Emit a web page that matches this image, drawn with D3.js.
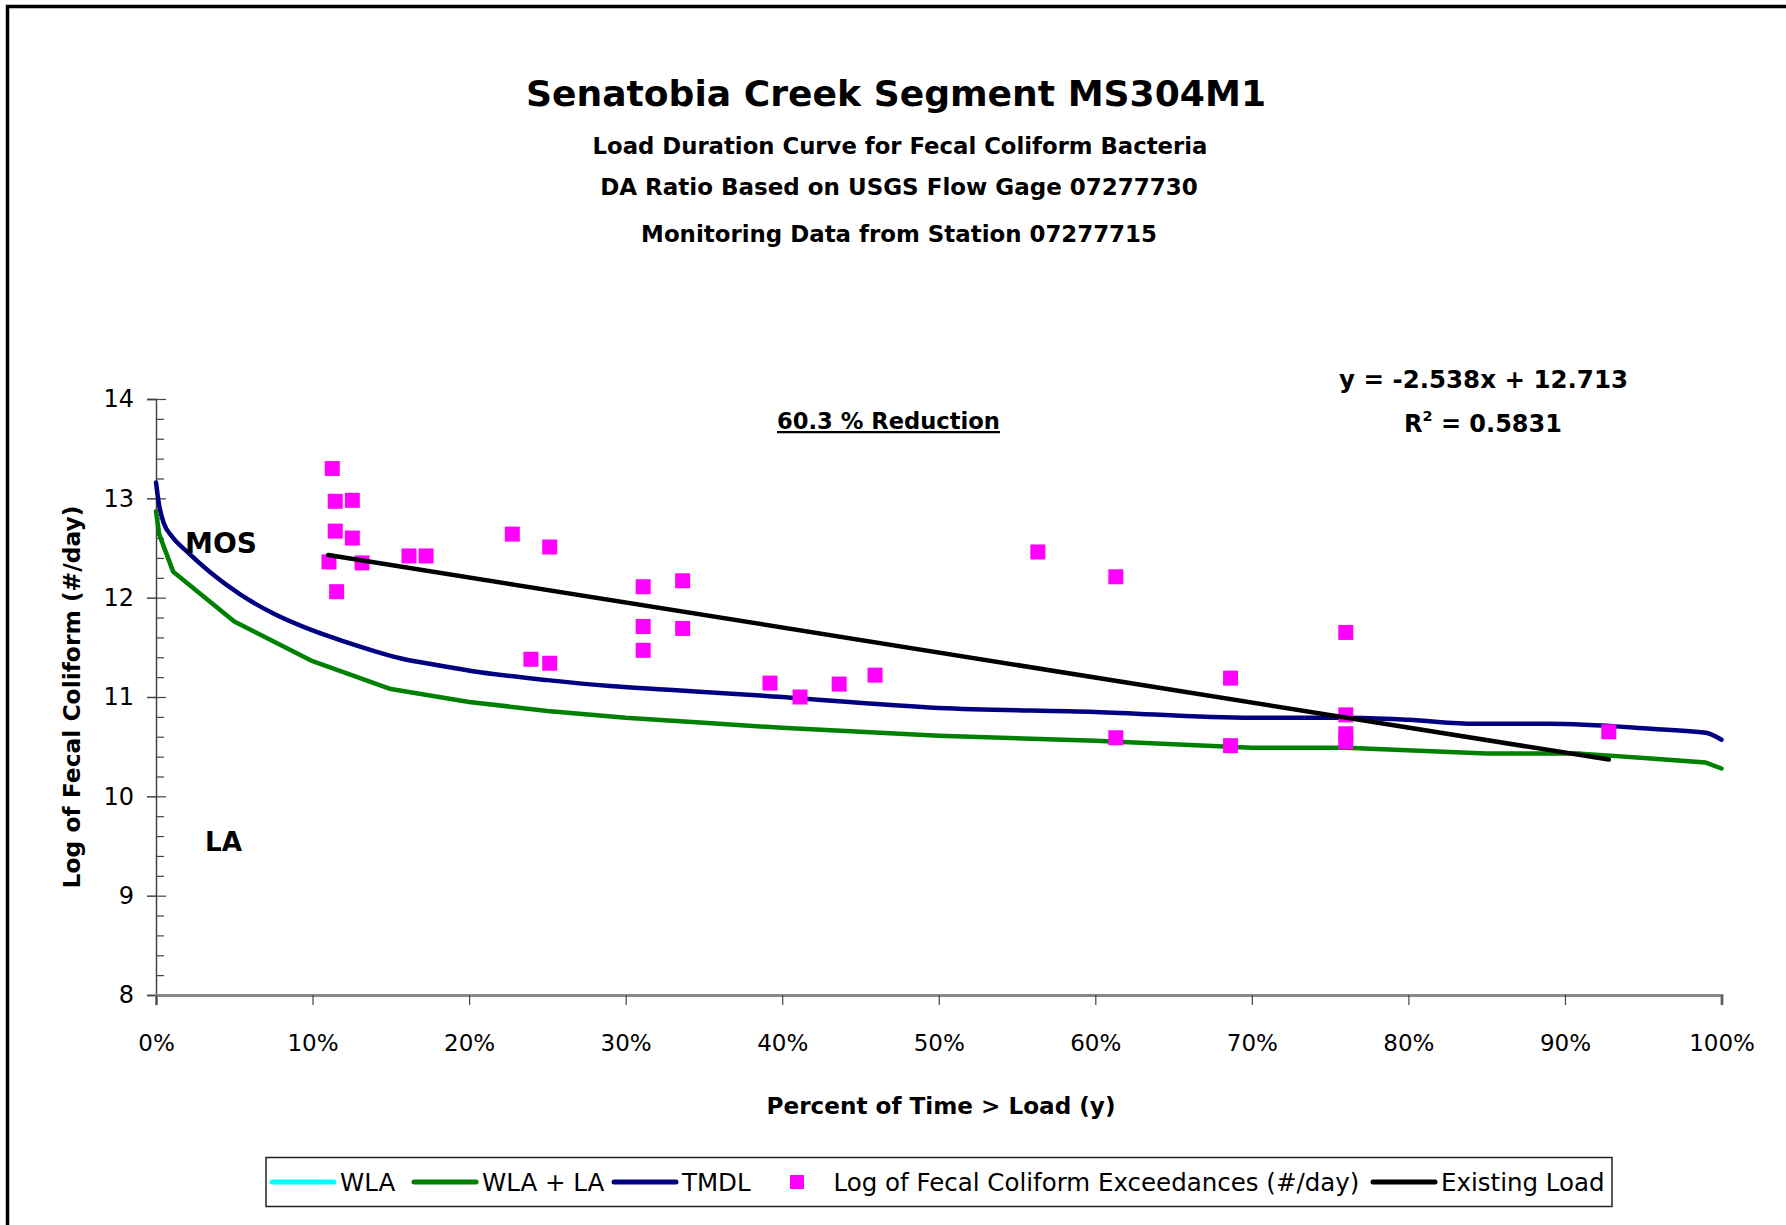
<!DOCTYPE html>
<html>
<head>
<meta charset="utf-8">
<script src="https://cdn.jsdelivr.net/npm/d3@7.9.0/dist/d3.min.js"></script>
<style>
  body { margin: 0; background: #fff; }
  svg { display: block; font-family: 'Comic Sans MS', 'DejaVu Sans', sans-serif; }
</style>
</head>
<body>
<svg id="chart" width="1786" height="1225"></svg>
<script>
// percent of time (fraction) and log load for the WLA + LA curve
const wlaLaX = [0, 0.002, 0.011, 0.05, 0.10, 0.15, 0.20, 0.25, 0.30, 0.35, 0.40, 0.50, 0.60, 0.70, 0.76, 0.85, 0.91, 0.955, 0.99, 1.00];
const wlaLaY = [12.87, 12.64, 12.26, 11.76, 11.36, 11.08, 10.95, 10.86, 10.79, 10.74, 10.69, 10.61, 10.56, 10.49, 10.49, 10.43, 10.43, 10.38, 10.34, 10.28];

// TMDL curve
const tmdlX = [0, 0.002, 0.005, 0.01, 0.02, 0.035, 0.054, 0.075, 0.10, 0.122, 0.14, 0.156, 0.18, 0.207, 0.25, 0.29, 0.33, 0.39, 0.50, 0.60, 0.70, 0.76, 0.80, 0.843, 0.89, 0.955, 0.99, 1.00];
const tmdlY = [13.16, 12.93, 12.75, 12.62, 12.46, 12.25, 12.03, 11.84, 11.67, 11.55, 11.46, 11.39, 11.32, 11.25, 11.17, 11.11, 11.07, 11.01, 10.89, 10.85, 10.79, 10.79, 10.77, 10.73, 10.73, 10.68, 10.64, 10.57];

// exceedances
const exceedX = [0.1126, 0.1145, 0.1254, 0.1145, 0.1254, 0.1105, 0.1316, 0.1154, 0.1616, 0.1725, 0.2276, 0.2515,
                 0.3112, 0.3364, 0.3112, 0.3364, 0.3112, 0.2395, 0.2515, 0.3922, 0.4114, 0.4364, 0.4593, 0.5633,
                 0.6131, 0.6131, 0.6864, 0.6864, 0.76, 0.76, 0.76, 0.76, 0.928];
const exceedY = [13.30, 12.97, 12.98, 12.67, 12.60, 12.36, 12.35, 12.06, 12.42, 12.42, 12.64, 12.51,
                 12.11, 12.17, 11.71, 11.69, 11.47, 11.38, 11.34, 11.14, 11.00, 11.13, 11.22, 12.46,
                 12.21, 10.59, 11.19, 10.51, 11.65, 10.82, 10.63, 10.55, 10.65];

// existing load trend line end points
const existingX = [0.110, 0.928];
const existingY = [12.43, 10.37];

const yMajor = [8, 9, 10, 11, 12, 13, 14];
const xTicks = [0, 0.1, 0.2, 0.3, 0.4, 0.5, 0.6, 0.7, 0.8, 0.9, 1.0];

const legendItems = [
  { label: 'WLA', color: '#00FFFF', type: 'line', x: 272 },
  { label: 'WLA + LA', color: '#008000', type: 'line', x: 414 },
  { label: 'TMDL', color: '#000080', type: 'line', x: 614 },
  { label: 'Log of Fecal Coliform Exceedances (#/day)', color: '#FF00FF', type: 'square', x: 790 },
  { label: 'Existing Load', color: '#000000', type: 'line', x: 1373 }
];

const svg = d3.select('#chart');

const x = d3.scaleLinear().domain([0, 1]).range([156, 1721.5]);
const y = d3.scaleLinear().domain([8, 14]).range([995, 399]);

// shrink or grow a text's font so it spans the wanted width
function fit(sel, w) {
  const node = sel.node();
  const base = parseFloat(sel.attr('font-size'));
  const len = node.getComputedTextLength();
  sel.attr('font-size', (base * w / len).toFixed(2));
  return sel;
}

// outer frame
svg.append('rect')
  .attr('x', 7.5).attr('y', 6.5)
  .attr('width', 1850).attr('height', 1300)
  .attr('fill', 'none').attr('stroke', '#000').attr('stroke-width', 3.5);

// titles
const titles = [
  { t: 'Senatobia Creek Segment MS304M1', y: 106, w: 740, x: 896 },
  { t: 'Load Duration Curve for Fecal Coliform Bacteria', y: 154, w: 615, x: 900 },
  { t: 'DA Ratio Based on USGS Flow Gage 07277730', y: 195, w: 598, x: 899 },
  { t: 'Monitoring Data from Station 07277715', y: 241.5, w: 516, x: 899 }
];
titles.forEach(d => {
  const t = svg.append('text')
    .attr('x', d.x).attr('y', d.y)
    .attr('text-anchor', 'middle')
    .attr('font-weight', 'bold')
    .attr('font-size', 30)
    .text(d.t);
  fit(t, d.w);
});

// y axis
const yAxis = svg.append('g')
  .attr('transform', `translate(${x(0)},0)`)
  .call(d3.axisLeft(y).tickValues(yMajor).tickSize(9).tickPadding(13).tickFormat(d3.format('d')));
yAxis.select('.domain').attr('stroke', '#444').attr('stroke-width', 1.5);
yAxis.selectAll('.tick line').attr('stroke', '#444').attr('stroke-width', 1.5);
yAxis.selectAll('.tick text').attr('font-size', 24).attr('fill', '#000')
  .attr('font-family', "'Comic Sans MS', 'DejaVu Sans', sans-serif");

// inside ticks: majors and minors
const yMinor = d3.range(8, 14.001, 0.2).map(v => +v.toFixed(1));
const yIn = svg.append('g')
  .attr('transform', `translate(${x(0)},0)`)
  .call(d3.axisRight(y).tickValues(yMinor).tickSize(8).tickFormat(''));
yIn.select('.domain').remove();
yIn.selectAll('.tick line')
  .attr('stroke', '#444').attr('stroke-width', 1.2)
  .attr('x2', d => Number.isInteger(d) ? 10 : 8);

// x axis
const xAxis = svg.append('g')
  .attr('transform', `translate(0,${y(8)})`)
  .call(d3.axisBottom(x).tickValues(xTicks).tickSize(10).tickPadding(30).tickFormat(d3.format('.0%')));
xAxis.select('.domain').attr('stroke', '#888').attr('stroke-width', 3);
xAxis.selectAll('.tick line').attr('stroke', '#444').attr('stroke-width', 1.2);
xAxis.selectAll('.tick text').attr('font-size', 23).attr('fill', '#000')
  .attr('font-family', "'Comic Sans MS', 'DejaVu Sans', sans-serif");

// axis titles
const yt = svg.append('text')
  .attr('transform', 'translate(80,697) rotate(-90)')
  .attr('text-anchor', 'middle')
  .attr('font-weight', 'bold')
  .attr('font-size', 24)
  .text('Log of Fecal Coliform (#/day)');
fit(yt, 383);

const xt = svg.append('text')
  .attr('x', 941).attr('y', 1114)
  .attr('text-anchor', 'middle')
  .attr('font-weight', 'bold')
  .attr('font-size', 24)
  .text('Percent of Time > Load (y)');
fit(xt, 349);

// lines
const line = d3.line().x(d => x(d[0])).y(d => y(d[1]));

svg.append('path')
  .datum(d3.zip(wlaLaX, wlaLaY))
  .attr('d', line)
  .attr('fill', 'none').attr('stroke', '#008000').attr('stroke-width', 4.5)
  .attr('stroke-linejoin', 'round').attr('stroke-linecap', 'round');

svg.append('path')
  .datum(d3.zip(tmdlX, tmdlY))
  .attr('d', line.curve(d3.curveMonotoneX))
  .attr('fill', 'none').attr('stroke', '#000080').attr('stroke-width', 4.5)
  .attr('stroke-linejoin', 'round').attr('stroke-linecap', 'round');

// exceedance points
svg.append('g')
  .selectAll('rect')
  .data(d3.zip(exceedX, exceedY))
  .join('rect')
  .attr('x', d => x(d[0]) - 7.5)
  .attr('y', d => y(d[1]) - 7.5)
  .attr('width', 15).attr('height', 15)
  .attr('fill', '#FF00FF');

// existing load trend
svg.append('path')
  .datum(d3.zip(existingX, existingY))
  .attr('d', d3.line().x(d => x(d[0])).y(d => y(d[1])))
  .attr('fill', 'none').attr('stroke', '#000').attr('stroke-width', 4.5)
  .attr('stroke-linecap', 'round');

// annotations
const red = svg.append('text')
  .attr('x', 888.5).attr('y', 429)
  .attr('text-anchor', 'middle')
  .attr('font-weight', 'bold')
  .attr('font-size', 24)
  .attr('text-decoration', 'underline')
  .text('60.3 % Reduction');
fit(red, 223);

const eq = svg.append('text')
  .attr('x', 1483.5).attr('y', 388)
  .attr('text-anchor', 'middle')
  .attr('font-weight', 'bold')
  .attr('font-size', 24)
  .text('y = -2.538x + 12.713');
fit(eq, 289);

const r2 = svg.append('text')
  .attr('x', 1483).attr('y', 431.5)
  .attr('text-anchor', 'middle')
  .attr('font-weight', 'bold')
  .attr('font-size', 24);
r2.append('tspan').text('R');
r2.append('tspan').attr('font-size', '0.6em').attr('dy', -11).text('2');
r2.append('tspan').attr('dy', 11).text(' = 0.5831');

const mos = svg.append('text')
  .attr('x', 185).attr('y', 553)
  .attr('font-weight', 'bold')
  .attr('font-size', 28)
  .text('MOS');
fit(mos, 72);

const la = svg.append('text')
  .attr('x', 205).attr('y', 851)
  .attr('font-weight', 'bold')
  .attr('font-size', 28)
  .text('LA');
fit(la, 37);

// legend
svg.append('rect')
  .attr('x', 266).attr('y', 1157.5)
  .attr('width', 1346).attr('height', 49)
  .attr('fill', '#fff').attr('stroke', '#222').attr('stroke-width', 1.5);

const lg = svg.append('g');
let legendSize = 24;
{
  const probe = lg.append('text').attr('font-size', 24).text(legendItems[3].label);
  legendSize = 24 * 526 / probe.node().getComputedTextLength();
  probe.remove();
}
legendItems.forEach(d => {
  let tx;
  if (d.type === 'line') {
    lg.append('line')
      .attr('x1', d.x).attr('x2', d.x + 62)
      .attr('y1', 1182).attr('y2', 1182)
      .attr('stroke', d.color).attr('stroke-width', 5)
      .attr('stroke-linecap', 'round');
    tx = d.x + 68;
  } else {
    lg.append('rect')
      .attr('x', d.x).attr('y', 1175)
      .attr('width', 14).attr('height', 14)
      .attr('fill', d.color);
    tx = 833.5;
  }
  lg.append('text')
    .attr('x', tx).attr('y', 1191)
    .attr('font-size', legendSize.toFixed(2))
    .text(d.label);
});
</script>
</body>
</html>
